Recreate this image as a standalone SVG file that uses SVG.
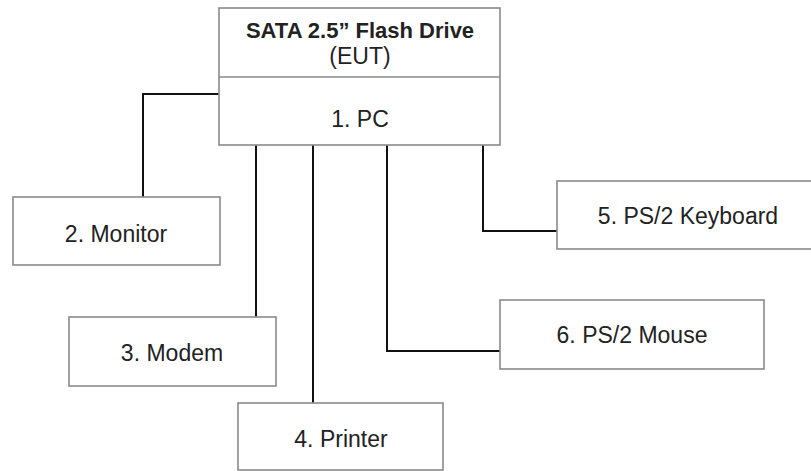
<svg xmlns="http://www.w3.org/2000/svg" width="811" height="471" viewBox="0 0 811 471">
<style>
.box{fill:#fff;stroke:#8a8a8a;stroke-width:1.6}
.t{font-family:"Liberation Sans",Arial,sans-serif;font-size:23px;fill:#222;text-anchor:middle}
.b{font-weight:bold;font-size:22px}
.c{fill:none;stroke:#111;stroke-width:2}
</style>
<rect width="811" height="471" fill="#fff"/>
<g id="connectors">
<polyline class="c" points="219,94 143,94 143,197"/>
<line class="c" x1="256" y1="145" x2="256" y2="317"/>
<line class="c" x1="313" y1="145" x2="313" y2="403"/>
<polyline class="c" points="387,145 387,351 500,351"/>
<polyline class="c" points="483,145 483,231 557,231"/>
</g>
<g id="pc">
<rect class="box" x="219" y="8" width="281" height="137"/>
<line x1="219" y1="77" x2="500" y2="77" stroke="#8a8a8a" stroke-width="1.6"/>
<text class="t b" x="360" y="38">SATA 2.5” Flash Drive</text>
<text class="t" x="360" y="64">(EUT)</text>
<text class="t" x="360" y="127">1. PC</text>
</g>
<g id="monitor">
<rect class="box" x="13" y="197" width="207" height="68"/>
<text class="t" x="116" y="242">2. Monitor</text>
</g>
<g id="modem">
<rect class="box" x="69" y="317" width="207" height="69"/>
<text class="t" x="172" y="361">3. Modem</text>
</g>
<g id="printer">
<rect class="box" x="238" y="403" width="205" height="67"/>
<text class="t" x="341" y="447">4. Printer</text>
</g>
<g id="keyboard">
<rect class="box" x="557" y="181" width="262" height="68"/>
<text class="t" x="688" y="224">5. PS/2 Keyboard</text>
</g>
<g id="mouse">
<rect class="box" x="500" y="300" width="264" height="69"/>
<text class="t" x="632" y="343">6. PS/2 Mouse</text>
</g>
</svg>
